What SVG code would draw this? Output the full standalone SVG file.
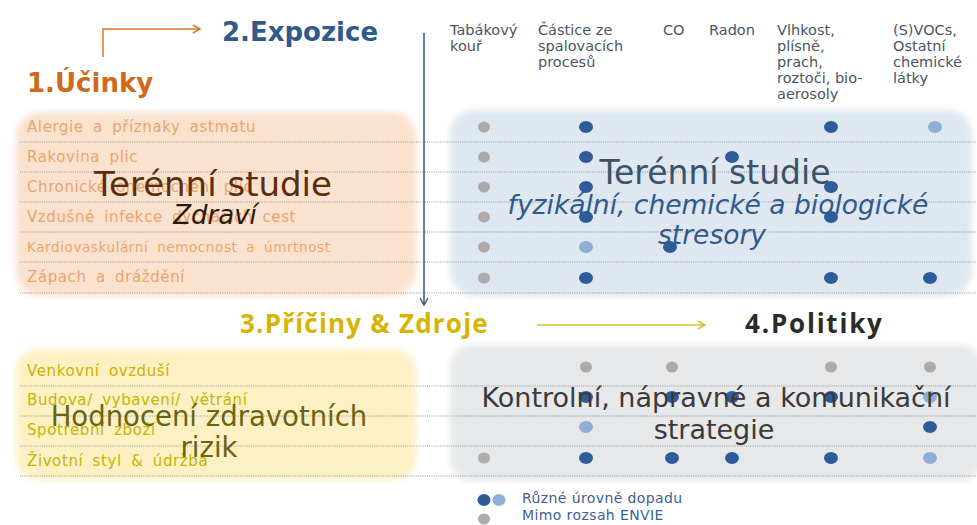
<svg xmlns="http://www.w3.org/2000/svg" width="977" height="525" viewBox="0 0 977 525">
<defs>
<style>
.title{font-family:"DejaVu Sans",Verdana,sans-serif;font-weight:bold;font-size:26px}
.title2{font-family:"Open Sans","Liberation Sans",Arial,sans-serif;font-weight:bold;font-size:26px;letter-spacing:1.2px}
.hdr{font-family:"DejaVu Sans",Verdana,sans-serif;font-size:14.5px;fill:#4a5663}
.lo{font-family:"DejaVu Sans",Verdana,sans-serif;font-size:15px;fill:#e9a46e;letter-spacing:0.6px;word-spacing:4px}
.ly{font-family:"DejaVu Sans",Verdana,sans-serif;font-size:15px;fill:#c7b300;letter-spacing:0.6px;word-spacing:4px}
.big{font-family:"DejaVu Sans",Verdana,sans-serif;text-anchor:middle}
.dl{stroke:#8c8c8c;stroke-width:0.9;stroke-dasharray:1 1.2}
.dk{fill:#2e5c9a}.lt{fill:#8eaed6}.gr{fill:#ababab}
.leg{font-family:"DejaVu Sans",Verdana,sans-serif;font-size:14px;fill:#3d5f93;letter-spacing:0.4px}
</style>
<filter id="soft" x="-5%" y="-5%" width="110%" height="110%"><feGaussianBlur stdDeviation="3"/></filter>
<marker id="ao" markerWidth="10" markerHeight="10" refX="8" refY="5" orient="auto" markerUnits="userSpaceOnUse"><path d="M1,1 L8,5 L1,9" fill="none" stroke="#d8782a" stroke-width="1.5"/></marker>
<marker id="ab" markerWidth="10" markerHeight="10" refX="8" refY="5" orient="auto" markerUnits="userSpaceOnUse"><path d="M1,1 L8,5 L1,9" fill="none" stroke="#3a5670" stroke-width="1.5"/></marker>
<marker id="ay" markerWidth="10" markerHeight="10" refX="8" refY="5" orient="auto" markerUnits="userSpaceOnUse"><path d="M1,1 L8,5 L1,9" fill="none" stroke="#d8c030" stroke-width="1.5"/></marker>
</defs>
<rect width="977" height="525" fill="#ffffff"/>

<!-- background panels -->
<g id="panels">
<rect x="16" y="112" width="400" height="184" rx="24" fill="#fbe2cf" filter="url(#soft)"/>
<rect x="450" y="110" width="522" height="186" rx="24" fill="#dfe7f0" filter="url(#soft)"/>
<rect x="16" y="349" width="400" height="131" rx="22" fill="#fdf1c4" filter="url(#soft)"/>
<rect x="450" y="345" width="532" height="136" rx="22" fill="#e6e8ea" filter="url(#soft)"/>
</g>

<!-- dotted separators -->
<g id="separators">
<line class="dl" x1="20" y1="142" x2="977" y2="142"/>
<line class="dl" x1="20" y1="172" x2="977" y2="172"/>
<line class="dl" x1="20" y1="202" x2="977" y2="202"/>
<line class="dl" x1="20" y1="232" x2="977" y2="232"/>
<line class="dl" x1="20" y1="262" x2="977" y2="262"/>
<line class="dl" x1="20" y1="293" x2="977" y2="293"/>
<line class="dl" x1="20" y1="386" x2="977" y2="386"/>
<line class="dl" x1="20" y1="416" x2="977" y2="416"/>
<line class="dl" x1="20" y1="446" x2="977" y2="446"/>
<line class="dl" x1="20" y1="476" x2="977" y2="476"/>
</g>

<!-- connectors -->
<g id="connectors" fill="none">
<path d="M103,57 L103,29 L200,29" stroke="#d8782a" stroke-width="1.5" marker-end="url(#ao)"/>
<path d="M424,33 L424,305" stroke="#3a5670" stroke-width="1.5" marker-end="url(#ab)"/>
<path d="M537,325 L705,325" stroke="#d8c030" stroke-width="1.5" marker-end="url(#ay)"/>
</g>

<g id="n1"><text class="title" x="27" y="92" fill="#d06a1a">1.Účinky</text></g>
<g id="n2"><text class="title" x="222" y="41" fill="#2f5a8c">2.Expozice</text></g>
<g id="n3"><text class="title2" x="240" y="333" fill="#d8b400">3.Příčiny &amp; Zdroje</text></g>
<g id="n4"><text class="title2" x="745" y="333" fill="#2a2a2a" style="letter-spacing:1.8px">4.Politiky</text></g>

<!-- column headers -->
<g id="headers">
<text class="hdr" x="450" y="35">Tabákový</text>
<text class="hdr" x="450" y="51">kouř</text>
<text class="hdr" x="538" y="35">Částice ze</text>
<text class="hdr" x="538" y="51">spalovacích</text>
<text class="hdr" x="538" y="67">procesů</text>
<text class="hdr" x="663" y="35">CO</text>
<text class="hdr" x="709" y="35">Radon</text>
<text class="hdr" x="777" y="35">Vlhkost,</text>
<text class="hdr" x="777" y="51">plísně,</text>
<text class="hdr" x="777" y="67">prach,</text>
<text class="hdr" x="777" y="83">roztoči, bio-</text>
<text class="hdr" x="777" y="99">aerosoly</text>
<text class="hdr" x="893" y="35">(S)VOCs,</text>
<text class="hdr" x="893" y="51">Ostatní</text>
<text class="hdr" x="893" y="67">chemické</text>
<text class="hdr" x="893" y="83">látky</text>
</g>

<!-- health effects list -->
<g id="effects">
<text class="lo" x="27" y="132">Alergie a příznaky astmatu</text>
<text class="lo" x="27" y="162">Rakovina plic</text>
<text class="lo" x="27" y="192">Chronické onemocnění plic</text>
<text class="lo" x="27" y="222">Vzdušné infekce dýchacích cest</text>
<text class="lo" x="27" y="252" style="font-size:13.5px">Kardiovaskulární nemocnost a úmrtnost</text>
<text class="lo" x="27" y="282">Zápach a dráždění</text>
<text class="big" x="213" y="196" font-size="34" fill="#5a2e0c">Terénní studie</text>
<text class="big" x="215" y="224" font-size="26" font-style="italic" fill="#2a1a0a">Zdraví</text>
</g>

<!-- exposure dots -->
<g id="dots-top">
<ellipse class="gr" cx="484" cy="127" rx="6" ry="5.5"/><ellipse class="dk" cx="586" cy="127" rx="7" ry="6"/><ellipse class="dk" cx="831" cy="127" rx="7" ry="6"/><ellipse class="lt" cx="935" cy="127" rx="7" ry="6"/>
<ellipse class="gr" cx="484" cy="157" rx="6" ry="5.5"/><ellipse class="dk" cx="586" cy="157" rx="7" ry="6"/><ellipse class="dk" cx="732" cy="157" rx="7" ry="6"/>
<ellipse class="gr" cx="484" cy="187" rx="6" ry="5.5"/><ellipse class="dk" cx="586" cy="187" rx="7" ry="6"/><ellipse class="dk" cx="831" cy="187" rx="7" ry="6"/>
<ellipse class="gr" cx="484" cy="217" rx="6" ry="5.5"/><ellipse class="dk" cx="586" cy="217" rx="7" ry="6"/><ellipse class="dk" cx="831" cy="217" rx="7" ry="6"/>
<ellipse class="gr" cx="484" cy="247" rx="6" ry="5.5"/><ellipse class="lt" cx="586" cy="247" rx="7" ry="6"/><ellipse class="dk" cx="670" cy="247" rx="7" ry="6"/>
<ellipse class="gr" cx="484" cy="278" rx="6" ry="5.5"/><ellipse class="dk" cx="586" cy="278" rx="7" ry="6"/><ellipse class="dk" cx="831" cy="278" rx="7" ry="6"/><ellipse class="dk" cx="930" cy="278" rx="7" ry="6"/>
</g>
<g id="field-studies">
<text class="big" x="715" y="184" font-size="33" fill="#3b5269">Terénní studie</text>
<text class="big" x="718" y="214" font-size="26.5" font-style="italic" fill="#2f5a8c">fyzikální, chemické a biologické</text>
<text class="big" x="712" y="244" font-size="26.5" font-style="italic" fill="#2f5a8c">stresory</text>
</g>

<!-- sources list -->
<g id="sources">
<text class="ly" x="27" y="376">Venkovní ovzduší</text>
<text class="ly" x="27" y="405">Budova/ vybavení/ větrání</text>
<text class="ly" x="27" y="435">Spotřební zboží</text>
<text class="ly" x="27" y="466">Životní styl &amp; údržba</text>
<text class="big" x="209" y="426" font-size="27.5" fill="#6b6212">Hodnocení zdravotních</text>
<text class="big" x="209" y="457" font-size="27.5" fill="#6b6212">rizik</text>
</g>

<!-- policy dots -->
<g id="dots-bottom">
<ellipse class="gr" cx="586" cy="367" rx="6" ry="5.5"/><ellipse class="gr" cx="672" cy="367" rx="6" ry="5.5"/><ellipse class="gr" cx="831" cy="367" rx="6" ry="5.5"/><ellipse class="gr" cx="930" cy="367" rx="6" ry="5.5"/>
<ellipse class="dk" cx="586" cy="397" rx="7" ry="6"/><ellipse class="dk" cx="672" cy="397" rx="7" ry="6"/><ellipse class="dk" cx="732" cy="397" rx="7" ry="6"/><ellipse class="dk" cx="831" cy="397" rx="7" ry="6"/><ellipse class="lt" cx="930" cy="397" rx="7" ry="6"/>
<ellipse class="lt" cx="586" cy="427" rx="7" ry="6"/><ellipse class="dk" cx="930" cy="427" rx="7" ry="6"/>
<ellipse class="gr" cx="484" cy="458" rx="6" ry="5.5"/><ellipse class="dk" cx="586" cy="458" rx="7" ry="6"/><ellipse class="dk" cx="672" cy="458" rx="7" ry="6"/><ellipse class="dk" cx="732" cy="458" rx="7" ry="6"/><ellipse class="dk" cx="831" cy="458" rx="7" ry="6"/><ellipse class="lt" cx="930" cy="458" rx="7" ry="6"/>
</g>
<g id="policies">
<text class="big" x="716" y="407" font-size="27" fill="#3a3a3a">Kontrolní, nápravné a komunikační</text>
<text class="big" x="714" y="439" font-size="27" fill="#3a3a3a">strategie</text>
</g>

<!-- legend -->
<g id="legend">
<ellipse class="dk" cx="484" cy="500" rx="6.5" ry="6"/><ellipse class="lt" cx="499" cy="500" rx="6.5" ry="6"/>
<ellipse class="gr" cx="484" cy="519" rx="6" ry="5.5"/>
<text class="leg" x="522" y="503">Různé úrovně dopadu</text>
<text class="leg" x="522" y="520">Mimo rozsah ENVIE</text>
</g>
</svg>
